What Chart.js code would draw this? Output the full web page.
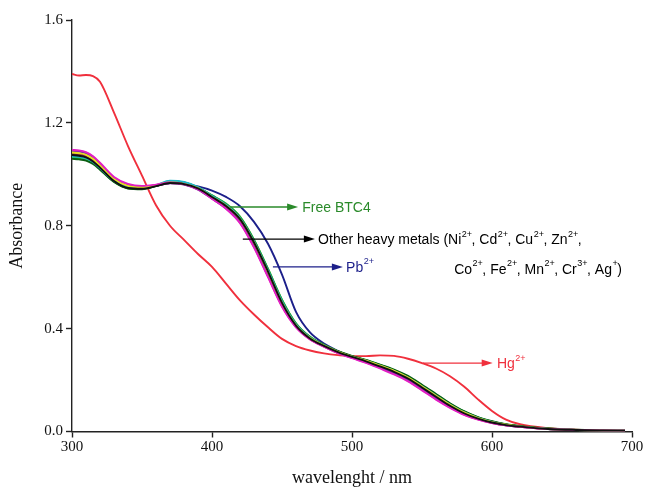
<!DOCTYPE html>
<html>
<head>
<meta charset="utf-8">
<script src="https://cdn.jsdelivr.net/npm/chart.js@4/dist/chart.umd.min.js"></script>
<style>
	html, body { margin: 0; padding: 0; background: #fff; }
	#wrap { width: 646px; height: 489px; }
</style>
</head>
<body>
<div id="wrap"><canvas id="uvChart"></canvas></div>
<script>
// wavelength (nm)
const wavelengths = [300,305,310,315,320,330,340,350,360,370,380,390,400,410,420,430,440,450,460,470,480,490,500,510,520,530,540,550,560,570,580,590,600,610,620,640,660,680,695];

// absorbance of each solution
const freeBTC4 = [1.065,1.062,1.058,1.045,1.022,0.972,0.946,0.943,0.955,0.972,0.968,0.948,0.918,0.885,0.835,0.745,0.632,0.512,0.42,0.368,0.336,0.311,0.292,0.276,0.257,0.237,0.212,0.178,0.142,0.107,0.077,0.054,0.038,0.027,0.02,0.011,0.006,0.004,0.003];
const pb = [1.075,1.074,1.07,1.056,1.032,0.978,0.95,0.946,0.955,0.966,0.963,0.953,0.937,0.912,0.876,0.815,0.73,0.61,0.465,0.385,0.342,0.313,0.291,0.273,0.252,0.231,0.205,0.17,0.134,0.1,0.071,0.05,0.035,0.025,0.019,0.01,0.006,0.004,0.003];
const hg = [1.39,1.384,1.386,1.382,1.36,1.24,1.11,0.995,0.88,0.8,0.745,0.69,0.64,0.575,0.51,0.455,0.405,0.36,0.332,0.315,0.304,0.297,0.293,0.293,0.296,0.294,0.283,0.266,0.245,0.215,0.175,0.125,0.08,0.046,0.028,0.013,0.007,0.004,0.003];
const ni = [1.075,1.072,1.066,1.05,1.026,0.974,0.947,0.944,0.954,0.966,0.962,0.945,0.912,0.877,0.826,0.735,0.622,0.5,0.412,0.362,0.333,0.309,0.29,0.273,0.253,0.232,0.206,0.171,0.135,0.1,0.071,0.05,0.035,0.025,0.019,0.01,0.006,0.004,0.003];
const cd = [1.095,1.093,1.086,1.07,1.045,0.99,0.963,0.955,0.96,0.968,0.962,0.942,0.905,0.866,0.81,0.715,0.6,0.485,0.405,0.358,0.33,0.305,0.285,0.267,0.245,0.222,0.195,0.16,0.124,0.092,0.065,0.046,0.033,0.024,0.018,0.01,0.006,0.004,0.003];
const cu = [1.085,1.082,1.076,1.06,1.035,0.982,0.955,0.95,0.958,0.968,0.963,0.946,0.912,0.878,0.826,0.735,0.62,0.5,0.413,0.363,0.334,0.31,0.291,0.275,0.256,0.236,0.21,0.175,0.139,0.104,0.074,0.052,0.036,0.026,0.019,0.01,0.006,0.004,0.003];
const zn = [1.07,1.068,1.062,1.048,1.024,0.975,0.95,0.947,0.958,0.975,0.97,0.95,0.916,0.882,0.83,0.74,0.627,0.507,0.417,0.365,0.335,0.31,0.291,0.275,0.256,0.236,0.21,0.176,0.14,0.105,0.075,0.053,0.037,0.026,0.019,0.01,0.006,0.004,0.003];
const co = [1.09,1.088,1.081,1.064,1.038,0.984,0.957,0.95,0.956,0.965,0.96,0.94,0.905,0.868,0.814,0.72,0.605,0.49,0.408,0.36,0.331,0.306,0.287,0.27,0.249,0.227,0.2,0.165,0.129,0.096,0.068,0.048,0.034,0.024,0.018,0.01,0.006,0.004,0.003];
const fe = [1.06,1.058,1.053,1.04,1.018,0.97,0.945,0.942,0.954,0.97,0.967,0.948,0.916,0.883,0.832,0.742,0.628,0.508,0.418,0.366,0.336,0.312,0.294,0.278,0.26,0.241,0.216,0.182,0.146,0.11,0.079,0.056,0.04,0.028,0.021,0.012,0.007,0.004,0.003];
const mn = [1.09,1.09,1.084,1.068,1.042,0.988,0.96,0.952,0.958,0.966,0.961,0.941,0.906,0.868,0.812,0.718,0.602,0.487,0.406,0.359,0.33,0.305,0.286,0.268,0.247,0.224,0.197,0.162,0.126,0.094,0.066,0.047,0.033,0.024,0.018,0.01,0.006,0.004,0.003];
const cr = [1.068,1.065,1.06,1.046,1.022,0.972,0.947,0.944,0.956,0.973,0.968,0.949,0.918,0.886,0.836,0.746,0.633,0.513,0.421,0.368,0.337,0.312,0.293,0.277,0.259,0.239,0.214,0.18,0.144,0.108,0.078,0.055,0.039,0.027,0.02,0.011,0.006,0.004,0.003];
const ag = [1.08,1.078,1.072,1.056,1.031,0.978,0.951,0.946,0.955,0.966,0.961,0.943,0.908,0.872,0.818,0.726,0.611,0.493,0.409,0.36,0.331,0.307,0.288,0.27,0.25,0.228,0.201,0.166,0.13,0.097,0.069,0.048,0.034,0.024,0.018,0.01,0.006,0.004,0.003];

const yTicks = [0.0, 0.4, 0.8, 1.2, 1.6];
const xTicks = [300, 400, 500, 600, 700];

const series = [
	{ label: 'Ni2+', data: ni, color: '#111111' },
	{ label: 'Cd2+', data: cd, color: '#e21fc4' },
	{ label: 'Cu2+', data: cu, color: '#e6df1e' },
	{ label: 'Zn2+', data: zn, color: '#1fb6c9' },
	{ label: 'Co2+', data: co, color: '#7a2ea6' },
	{ label: 'Fe2+', data: fe, color: '#0b5e12' },
	{ label: 'Mn2+', data: mn, color: '#ff5c9e' },
	{ label: 'Cr3+', data: cr, color: '#38c838' },
	{ label: 'Ag+', data: ag, color: '#8c1b4b' },
	{ label: 'Free BTC4', data: freeBTC4, color: '#1f9a2a' },
	{ label: 'Pb2+', data: pb, color: '#1c1f8a' },
	{ label: 'Hg2+', data: hg, color: '#f0303d' }
];

// labels with arrows, in data units
const notes = [
	{ from: [413, 0.873], to: [461.5, 0.873], color: '#2a8a2a', lines: [{ at: [464.5, 0.873], parts: [['Free BTC4']] }] },
	{ from: [422, 0.748], to: [473.5, 0.748], color: '#000000', lines: [
		{ at: [475.8, 0.748], parts: [['Other heavy metals (Ni'], ['2+', 1], [', Cd'], ['2+', 1], [', Cu'], ['2+', 1], [', Zn'], ['2+', 1], [',']] },
		{ at: [573, 0.632], parts: [['Co'], ['2+', 1], [', Fe'], ['2+', 1], [', Mn'], ['2+', 1], [', Cr'], ['3+', 1], [', Ag'], ['+', 1], [')']] }
	] },
	{ from: [443.5, 0.64], to: [493.5, 0.64], color: '#1c1f8a', lines: [{ at: [495.8, 0.64], parts: [['Pb'], ['2+', 1]] }] },
	{ from: [550.5, 0.266], to: [600.5, 0.266], color: '#f0303d', lines: [{ at: [603.5, 0.266], parts: [['Hg'], ['2+', 1]] }] }
];

const notesPlugin = {
	id: 'notes',
	afterDatasetsDraw(chart) {
		const { ctx, scales: { x, y } } = chart;
		ctx.save();
		notes.forEach(n => {
			const x0 = x.getPixelForValue(n.from[0]);
			const x1 = x.getPixelForValue(n.to[0]);
			const yy = y.getPixelForValue(n.from[1]);
			ctx.strokeStyle = n.color;
			ctx.fillStyle = n.color;
			ctx.lineWidth = 1.4;
			ctx.beginPath();
			ctx.moveTo(x0, yy);
			ctx.lineTo(x1 - 8, yy);
			ctx.stroke();
			ctx.beginPath();
			ctx.moveTo(x1, yy);
			ctx.lineTo(x1 - 11, yy - 3.5);
			ctx.lineTo(x1 - 11, yy + 3.5);
			ctx.closePath();
			ctx.fill();
			ctx.textBaseline = 'middle';
			n.lines.forEach(line => {
				let px = x.getPixelForValue(line.at[0]);
				const py = y.getPixelForValue(line.at[1]);
				line.parts.forEach(p => {
					if (p[1]) {
						ctx.font = '9px "Liberation Sans", Arial, sans-serif';
						ctx.fillText(p[0], px + 0.5, py - 5);
					} else {
						ctx.font = '14px "Liberation Sans", Arial, sans-serif';
						ctx.fillText(p[0], px, py + 1);
					}
					px += ctx.measureText(p[0]).width;
				});
			});
		});
		ctx.restore();
	}
};

const serif = '"Liberation Serif", "Times New Roman", serif';

new Chart(document.getElementById('uvChart'), {
	type: 'line',
	data: {
		datasets: series.map(s => ({
			label: s.label,
			data: wavelengths.map((w, i) => ({ x: w, y: s.data[i] })),
			borderColor: s.color,
			borderWidth: 1.9,
			pointRadius: 0,
			fill: false,
			cubicInterpolationMode: 'monotone'
		}))
	},
	options: {
		responsive: true,
		maintainAspectRatio: false,
		animation: false,
		events: [],
		layout: { padding: { left: 0, right: 14, top: 20, bottom: 0 } },
		plugins: { legend: { display: false }, tooltip: { enabled: false } },
		scales: {
			x: {
				type: 'linear',
				min: 300,
				max: 700,
				afterBuildTicks: s => { s.ticks = xTicks.map(v => ({ value: v })); },
				afterFit: s => { s.height = 57.5; },
				ticks: { color: '#111', font: { family: serif, size: 15 }, padding: 1, maxRotation: 0 },
				grid: { drawOnChartArea: false, drawTicks: true, tickLength: 6, tickColor: '#222', tickWidth: 1.4 },
				border: { display: true, color: '#222', width: 1.4 },
				title: { display: true, text: 'wavelenght / nm', color: '#111', font: { family: serif, size: 18 }, padding: { top: 6, bottom: 0 } }
			},
			y: {
				type: 'linear',
				min: 0,
				max: 1.6,
				afterBuildTicks: s => { s.ticks = yTicks.map(v => ({ value: v })); },
				afterFit: s => { s.width = 72; },
				ticks: { color: '#111', font: { family: serif, size: 15 }, padding: 3, callback: v => v.toFixed(1) },
				grid: { drawOnChartArea: false, drawTicks: true, tickLength: 6, tickColor: '#222', tickWidth: 1.4 },
				border: { display: true, color: '#222', width: 1.4 },
				title: { display: true, text: 'Absorbance', color: '#111', font: { family: serif, size: 18 }, padding: { top: 6, bottom: 6 } }
			}
		}
	},
	plugins: [notesPlugin]
});
</script>
</body>
</html>
